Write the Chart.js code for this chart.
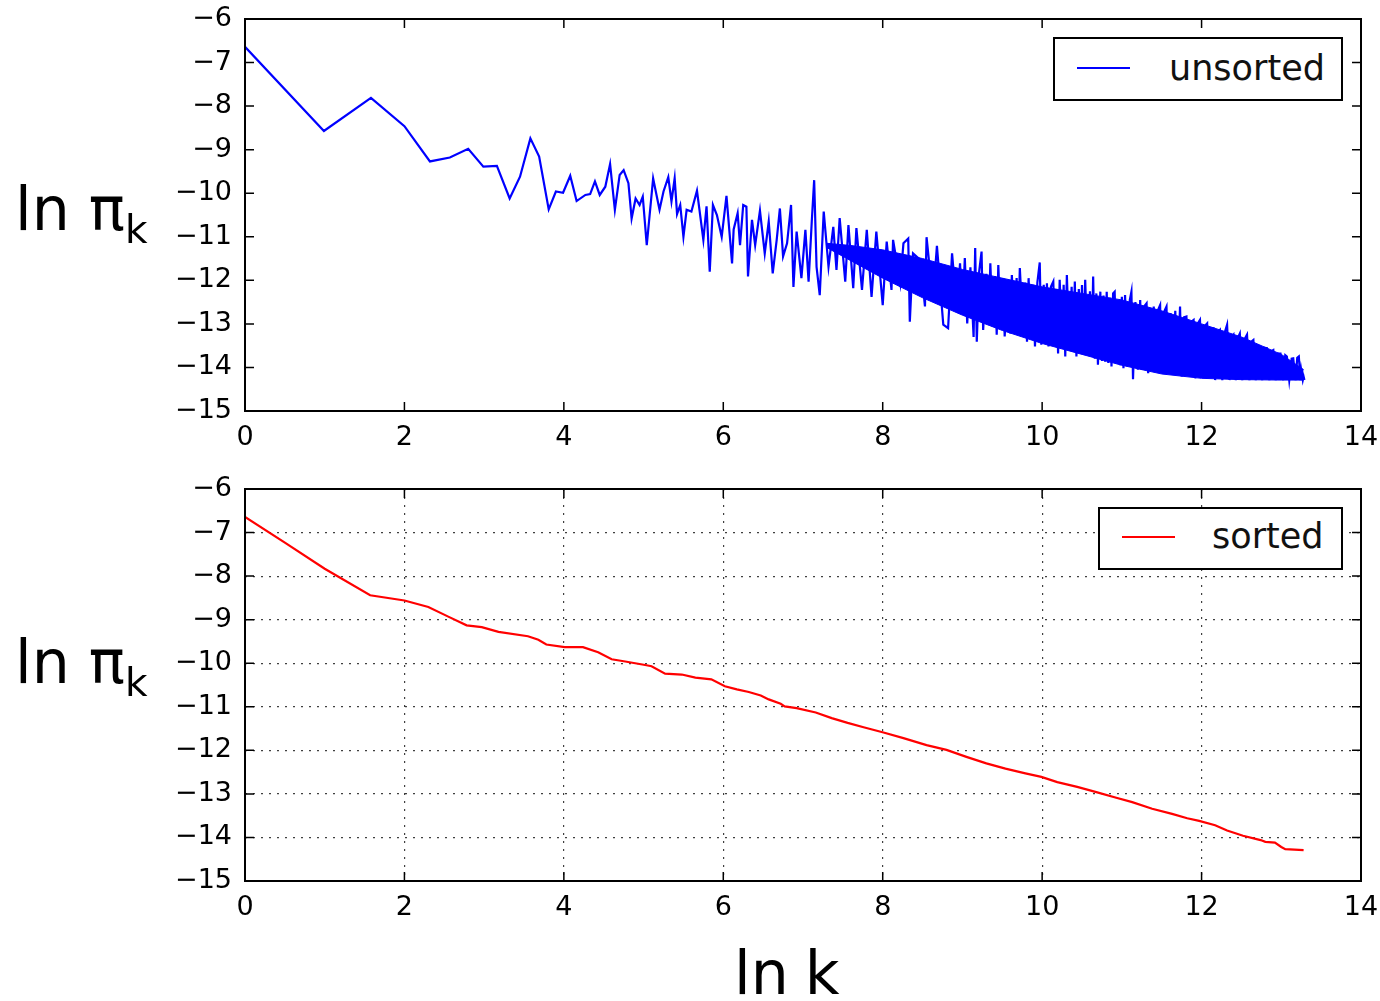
<!DOCTYPE html>
<html>
<head>
<meta charset="utf-8">
<script src="https://cdn.jsdelivr.net/npm/chart.js@4.4.1/dist/chart.umd.min.js"></script>
<style>
  body { margin: 0; background: #fff; font-family: "DejaVu Sans", sans-serif; }
  #wrap { position: relative; width: 1380px; height: 1001px; }
  canvas { position: absolute; left: 0; }
  .ylab { position: absolute; left: 15px; font-size: 60px; line-height: 60px; white-space: nowrap; color: #000; }
  .ylab span { font-size: 39px; position: relative; top: 13px; }
  .xlab { position: absolute; left: 734px; top: 943px; font-size: 60px; line-height: 60px; word-spacing: -3px; color: #000; }
  .legend { position: absolute; border: 2px solid #000; background: #fff; box-sizing: border-box; }
  .legend .key { position: absolute; height: 2px; }
  .legend .txt { position: absolute; font-size: 35px; line-height: 35px; white-space: nowrap; color: #111; }
</style>
</head>
<body>
<div id="wrap">
  <canvas id="top" width="1380" height="460" style="top:0px"></canvas>
  <canvas id="bottom" width="1380" height="460" style="top:470px"></canvas>

  <div class="ylab" style="top:179px">ln π<span>k</span></div>
  <div class="ylab" style="top:632px">ln π<span>k</span></div>
  <div class="xlab">ln k</div>

  <div class="legend" style="left:1053px; top:37px; width:290px; height:64px">
    <div class="key" style="left:22px; top:28px; width:53px; background:#0000ff"></div>
    <div class="txt" style="left:114px; top:12px">unsorted</div>
  </div>
  <div class="legend" style="left:1098px; top:507px; width:245px; height:63px">
    <div class="key" style="left:22px; top:27px; width:53px; background:#ff0000"></div>
    <div class="txt" style="left:112px; top:10px">sorted</div>
  </div>
</div>

<script>
// tick labels
const xTickLabels = ['0', '2', '4', '6', '8', '10', '12', '14'];
const yTickLabels = ['−15', '−14', '−13', '−12', '−11', '−10', '−9', '−8', '−7', '−6'];

// unsorted: ln k vs ln pi_k
const unsortedX = [
  0, 0.99, 1.58, 2.0, 2.32, 2.57, 2.80, 2.99, 3.16, 3.32, 3.45, 3.58, 3.69, 3.81, 3.90, 3.99,
  4.08, 4.16, 4.27, 4.33, 4.39, 4.45, 4.52, 4.58, 4.64, 4.70, 4.75, 4.81, 4.85, 4.90, 4.95, 4.99,
  5.04, 5.12, 5.20, 5.25, 5.31, 5.35, 5.39, 5.42,
  5.46, 5.50, 5.54, 5.60, 5.67, 5.75, 5.79, 5.83, 5.87, 5.92, 5.98, 6.04, 6.11, 6.13, 6.18, 6.21,
  6.25, 6.29, 6.31, 6.36, 6.40, 6.46, 6.52, 6.57, 6.62, 6.67, 6.71, 6.75, 6.80, 6.85, 6.88, 6.92,
  6.98, 7.03, 7.07, 7.11, 7.14, 7.17, 7.21, 7.26, 7.32, 7.38, 7.42, 7.46, 7.53, 7.57, 7.63, 7.67,
  7.74, 7.80, 7.86, 7.92, 8.00, 8.05, 8.11, 8.13, 8.22, 8.26, 8.32, 8.34, 8.38, 8.47, 8.53, 8.55,
  8.63, 8.68, 8.76, 8.82, 8.87, 8.93,
  8.97, 9.00, 9.03, 9.06, 9.10, 9.14, 9.16, 9.18, 9.21, 9.24, 9.26, 9.30, 9.33, 9.35, 9.38, 9.41,
  9.43, 9.45, 9.48, 9.51, 9.53, 9.57, 9.60, 9.62, 9.65, 9.68, 9.70, 9.72, 9.76, 9.79, 9.81, 9.83,
  9.86, 9.89, 9.91, 9.94, 9.97, 9.99, 10.02, 10.04, 10.06, 10.08, 10.11, 10.14, 10.16, 10.18, 10.20, 10.22,
  10.25, 10.27, 10.29, 10.31, 10.34, 10.37, 10.39, 10.41, 10.43, 10.46, 10.48, 10.50, 10.52, 10.54, 10.57, 10.60,
  10.62, 10.64, 10.66, 10.68, 10.70, 10.73, 10.75, 10.77, 10.79, 10.81, 10.83, 10.85, 10.87, 10.89, 10.91, 10.93,
  10.96, 10.98, 11.00, 11.02, 11.04, 11.07, 11.10, 11.12, 11.14, 11.17, 11.20, 11.23, 11.25, 11.28, 11.31, 11.33,
  11.36, 11.38, 11.40, 11.42, 11.45, 11.48, 11.50, 11.53, 11.56, 11.58, 11.61, 11.64, 11.67, 11.70, 11.73, 11.75,
  11.78, 11.81, 11.84, 11.87, 11.90, 11.92, 11.95, 11.98, 12.01, 12.04, 12.07, 12.09, 12.12, 12.15, 12.17, 12.20,
  12.23, 12.26, 12.29, 12.32, 12.35, 12.38, 12.40, 12.43, 12.46, 12.48, 12.51, 12.54, 12.57, 12.60, 12.63, 12.65,
  12.68, 12.71, 12.73, 12.76, 12.79, 12.82, 12.85, 12.88, 12.90, 12.93, 12.96, 12.99, 13.02, 13.05, 13.07, 13.10,
  13.13, 13.15, 13.18, 13.20, 13.22, 13.24, 13.25, 13.27, 13.28, 13.29
];
const unsortedY = [
  -6.64, -8.57, -7.81, -8.46, -9.27, -9.18, -8.98, -9.39, -9.37, -10.12, -9.62, -8.74, -9.16, -10.37, -9.96, -9.99,
  -9.60, -10.18, -10.04, -10.02, -9.73, -10.04, -9.85, -9.33, -10.38, -9.58, -9.47, -9.77, -10.58, -10.12, -10.27, -10.08,
  -11.19, -9.66, -10.38, -9.96, -9.63, -10.19, -9.66, -10.48,
  -10.27, -11.00, -10.38, -10.42, -9.94, -11.07, -10.30, -11.80, -10.27, -10.50, -11.00, -10.06, -11.61, -10.83, -10.46, -11.19,
  -10.27, -10.31, -11.91, -10.61, -11.19, -10.40, -11.38, -10.65, -11.84, -11.07, -10.35, -11.45, -11.15, -10.27, -12.15, -10.88,
  -11.95, -10.84, -12.03, -10.65, -9.70, -11.69, -12.34, -10.42, -11.69, -10.77, -11.76, -10.57, -12.03, -10.73, -12.18, -10.80,
  -12.22, -10.84, -12.38, -10.88, -12.57, -11.11, -12.22, -11.07, -12.07, -11.15, -11.04, -12.95, -11.38, -11.53, -12.60, -11.01,
  -12.45, -11.21, -13.02, -13.10, -11.38, -12.68,
  -11.61, -12.76, -11.49, -12.99, -11.70, -13.30, -11.26, -13.41, -11.80, -11.34, -13.14, -11.85, -12.90, -11.61, -13.06, -11.90,
  -13.25, -11.65, -13.10, -11.95, -13.29, -11.98, -13.22, -11.88, -13.00, -11.95, -13.22, -11.72, -13.15, -12.05, -13.41, -11.95,
  -13.30, -12.10, -13.52, -12.05, -11.59, -13.48, -12.10, -13.35, -12.07, -13.52, -12.15, -12.03, -13.45, -12.20, -13.68, -11.99,
  -13.50, -12.10, -13.75, -11.88, -13.55, -12.15, -13.64, -12.03, -13.75, -12.20, -13.60, -12.11, -13.71, -11.99, -13.65, -12.25,
  -13.75, -11.91, -13.80, -12.30, -13.94, -12.26, -13.85, -12.35, -13.87, -12.26, -13.90, -12.40, -13.98, -12.30, -12.26, -13.90,
  -12.45, -13.95, -12.38, -14.02, -12.34, -13.98, -12.45, -12.26, -14.27, -12.50, -14.05, -12.45, -14.06, -12.60, -12.53, -14.13,
  -12.65, -14.05, -12.60, -14.10, -12.70, -12.57, -14.10, -12.72, -12.60, -14.13, -12.75, -14.15, -12.70, -14.18, -12.60, -14.21,
  -12.85, -12.83, -14.20, -12.95, -12.91, -14.25, -13.00, -12.91, -14.22, -13.05, -12.99, -14.21, -13.10, -13.10, -14.29, -13.20,
  -13.14, -14.29, -13.20, -13.02, -14.29, -13.30, -13.25, -14.29, -13.30, -13.22, -14.29, -13.35, -13.25, -14.29, -13.40, -13.37,
  -14.29, -13.50, -13.52, -14.29, -13.55, -13.56, -14.29, -13.62, -13.60, -14.29, -13.68, -13.68, -14.29, -13.72, -13.75, -14.29,
  -13.80, -13.79, -14.29, -13.78, -13.75, -14.29, -14.06, -14.29, -14.21, -14.29
];

// solid core of the dense noisy band (upper / lower edge)
const coreX = [7.3, 7.6, 8.0, 8.5, 9.0, 9.5, 10.0, 10.5, 11.0, 11.5, 12.0, 12.5, 13.0, 13.28];
const coreTop = [-11.15, -11.2, -11.3, -11.5, -11.75, -11.95, -12.15, -12.3, -12.45, -12.7, -13.0, -13.3, -13.7, -14.05];
const coreBottom = [-11.25, -11.55, -11.95, -12.4, -12.8, -13.15, -13.45, -13.7, -13.95, -14.15, -14.25, -14.28, -14.29, -14.29];

// sorted: bottom panel
const sortedX = [
  0, 0.5, 1.0, 1.57, 2.0, 2.30, 2.55, 2.78, 2.97, 3.18, 3.55, 3.68, 3.78, 4.01, 4.24, 4.43,
  4.60, 4.77, 5.02, 5.10, 5.27, 5.48, 5.65, 5.85, 6.02, 6.17, 6.32, 6.47, 6.57, 6.72, 6.77, 6.92,
  7.16, 7.36, 7.56, 7.76, 8.01, 8.26, 8.55, 8.80, 9.05, 9.30, 9.54, 9.79, 9.99, 10.19, 10.44, 10.68,
  10.93, 11.13, 11.38, 11.63, 11.82, 11.97, 12.17, 12.32, 12.52, 12.74, 12.80, 12.92, 13.00, 13.05, 13.28
];
const sortedY = [
  -6.64, -7.23, -7.83, -8.44, -8.56, -8.71, -8.93, -9.13, -9.17, -9.28, -9.38, -9.46, -9.57, -9.63, -9.63, -9.75,
  -9.91, -9.96, -10.04, -10.07, -10.24, -10.26, -10.33, -10.37, -10.53, -10.60, -10.66, -10.74, -10.83, -10.93, -10.99, -11.03,
  -11.13, -11.26, -11.37, -11.47, -11.59, -11.72, -11.88, -11.99, -12.15, -12.30, -12.42, -12.53, -12.61, -12.73, -12.84, -12.96,
  -13.09, -13.19, -13.34, -13.46, -13.56, -13.62, -13.72, -13.84, -13.96, -14.06, -14.10, -14.12, -14.22, -14.27, -14.29
];

const pts = (xs, ys) => xs.map((x, i) => ({ x: x, y: ys[i] }));

// matplotlib-like frame with inward ticks on all four sides
const frameTicks = {
    id: 'frameTicks',
    afterDatasetsDraw(chart) {
        const { ctx, chartArea: a, scales } = chart;
        const L = 9;
        ctx.save();
        ctx.strokeStyle = '#000';
        ctx.lineWidth = 1.5;
        ctx.beginPath();
        scales.x.ticks.forEach(t => {
            const px = scales.x.getPixelForValue(t.value);
            ctx.moveTo(px, a.bottom); ctx.lineTo(px, a.bottom - L);
            ctx.moveTo(px, a.top); ctx.lineTo(px, a.top + L);
        });
        scales.y.ticks.forEach(t => {
            const py = scales.y.getPixelForValue(t.value);
            ctx.moveTo(a.left, py); ctx.lineTo(a.left + L, py);
            ctx.moveTo(a.right, py); ctx.lineTo(a.right - L, py);
        });
        ctx.stroke();
        ctx.lineWidth = 2;
        ctx.strokeRect(a.left, a.top, a.right - a.left, a.bottom - a.top);
        ctx.restore();
    }
};

function makeOptions(showGrid) {
    const grid = showGrid
        ? { display: true, color: 'rgba(0,0,0,0.75)', lineWidth: 1.2, drawTicks: false }
        : { display: false, drawTicks: false };
    return {
        responsive: false,
        animation: false,
        layout: { padding: { left: 0, right: 19, top: 19, bottom: 0 } },
        plugins: { legend: { display: false }, tooltip: { enabled: false } },
        elements: { point: { radius: 0 }, line: { tension: 0 } },
        scales: {
            x: {
                type: 'linear', min: 0, max: 14,
                grid: grid,
                border: { display: false, dash: [2, 6] },
                afterFit: s => { s.height = 49; s.paddingLeft = 0; s.paddingRight = 0; },
                ticks: {
                    stepSize: 2, autoSkip: false, padding: 11, color: '#000', maxRotation: 0,
                    font: { family: 'DejaVu Sans', size: 27 },
                    callback: (v, i) => xTickLabels[i]
                }
            },
            y: {
                type: 'linear', min: -15, max: -6,
                grid: grid,
                border: { display: false, dash: [2, 6] },
                afterFit: s => { s.width = 245; s.paddingTop = 0; s.paddingBottom = 0; },
                ticks: {
                    stepSize: 1, autoSkip: false, padding: 13, color: '#000',
                    font: { family: 'DejaVu Sans', size: 27 },
                    callback: (v, i) => yTickLabels[i]
                }
            }
        }
    };
}

new Chart(document.getElementById('top').getContext('2d'), {
    type: 'line',
    data: {
        datasets: [
            {
                label: 'unsorted',
                data: pts(unsortedX, unsortedY),
                borderColor: '#0000ff',
                borderWidth: 2.2,
                fill: false
            },
            {
                label: 'core top',
                data: pts(coreX, coreTop),
                borderColor: '#0000ff',
                borderWidth: 1,
                backgroundColor: '#0000ff',
                fill: '+1'
            },
            {
                label: 'core bottom',
                data: pts(coreX, coreBottom),
                borderColor: '#0000ff',
                borderWidth: 1,
                fill: false
            }
        ]
    },
    options: makeOptions(false),
    plugins: [frameTicks]
});

new Chart(document.getElementById('bottom').getContext('2d'), {
    type: 'line',
    data: {
        datasets: [
            {
                label: 'sorted',
                data: pts(sortedX, sortedY),
                borderColor: '#ff0000',
                borderWidth: 2.2,
                fill: false
            }
        ]
    },
    options: makeOptions(true),
    plugins: [frameTicks]
});
</script>
</body>
</html>
